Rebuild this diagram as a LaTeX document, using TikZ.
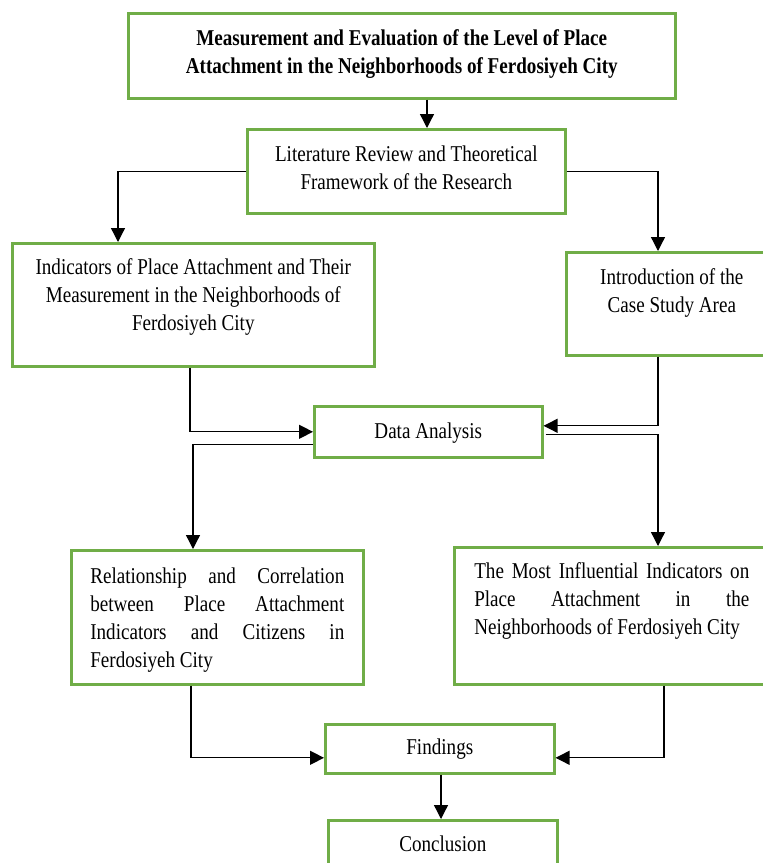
\documentclass[tikz,border=0pt]{standalone}
\usepackage{fontspec}
\setmainfont{Liberation Serif}[FakeStretch=0.845]
\usetikzlibrary{arrows.meta}
\definecolor{boxgreen}{HTML}{70AD47}
% width, height, first-baseline offset, text
\newcommand\boxtext[4]{\parbox[c][#2pt][t]{#1pt}{\centering\rule{0pt}{#3pt}#4}}
% width, height, first-baseline offset, text, side margin
\newcommand\boxjust[5]{\parbox[c][#2pt][t]{#1pt}{\leftskip=#5pt\rightskip=#5pt\rule{0pt}{#3pt}#4}}
\tikzset{
  box/.style={draw=boxgreen, line width=2.6pt, inner sep=0pt, anchor=north west,
    font=\fontsize{22.6}{28}\selectfont},
  arr/.style={draw=black, line width=1.3pt, -{Triangle[length=14pt,width=14pt]}}
}
\begin{document}
\begin{tikzpicture}[x=1pt,y=-1pt]
\clip (0,0) rectangle (763,863);
\fill[white] (0,0) rectangle (763,863);

\node[box] (title) at (127,12) {\boxtext{547}{85}{32}{\bfseries Measurement and Evaluation of the Level of Place\\ Attachment in the Neighborhoods of Ferdosiyeh City}};
\node[box] (lit) at (246,128) {\boxtext{318}{84}{32}{Literature Review and Theoretical\\ Framework of the Research}};
\node[box] (ind) at (11,242) {\boxtext{362}{123}{31}{Indicators of Place Attachment and Their\\ Measurement in the Neighborhoods of\\ Ferdosiyeh City}};
\node[box] (intro) at (565,251) {\boxtext{211}{103}{32}{Introduction of the\\ Case Study Area}};
\node[box] (data) at (313,405) {\boxtext{228}{51}{32}{Data Analysis}};
\node[box] (rel) at (70,549) {\boxjust{292}{134}{33}{Relationship\hfill and\hfill Correlation\\ between\hfill Place\hfill Attachment\\ Indicators\hfill and\hfill Citizens\hfill in\\ Ferdosiyeh City}{19}};
\node[box] (most) at (453,546) {\boxjust{315}{137}{31}{The\hfill Most\hfill Influential\hfill Indicators\hfill on\\ Place\hfill Attachment\hfill in\hfill the\\ Neighborhoods of Ferdosiyeh City}{20}};
\node[box] (find) at (324,723) {\boxtext{229}{49}{30}{Findings}};
\node[box] (conc) at (327,819) {\boxtext{229}{70}{31}{Conclusion}};

\coordinate (xa) at (427,0);
\coordinate (xl) at (118,0);
\coordinate (xr) at (658,0);
\coordinate (xb) at (190,0);
\coordinate (xc) at (193,0);
\coordinate (xd) at (191,0);
\coordinate (xe) at (664,0);
\coordinate (xf) at (441,0);

\draw[arr] (title.south -| xa) -- (lit.north -| xa);
\draw[arr] (lit.west) -| (ind.north -| xl);
\draw[arr] (lit.east) -| (intro.north -| xr);
\draw[arr] (ind.south -| xb) |- (data.west);
\draw[arr] ([yshift=-13pt]data.west) -| (rel.north -| xc);
\draw[arr] (intro.south -| xr) |- ([yshift=6pt]data.east);
\draw[arr] ([yshift=-3pt,xshift=2pt]data.east) -| (most.north -| xr);
\draw[arr] (rel.south -| xd) |- ([yshift=-9pt]find.west);
\draw[arr] (most.south -| xe) |- ([yshift=-9pt]find.east);
\draw[arr] (find.south -| xf) -- (conc.north -| xf);
\end{tikzpicture}
\end{document}
